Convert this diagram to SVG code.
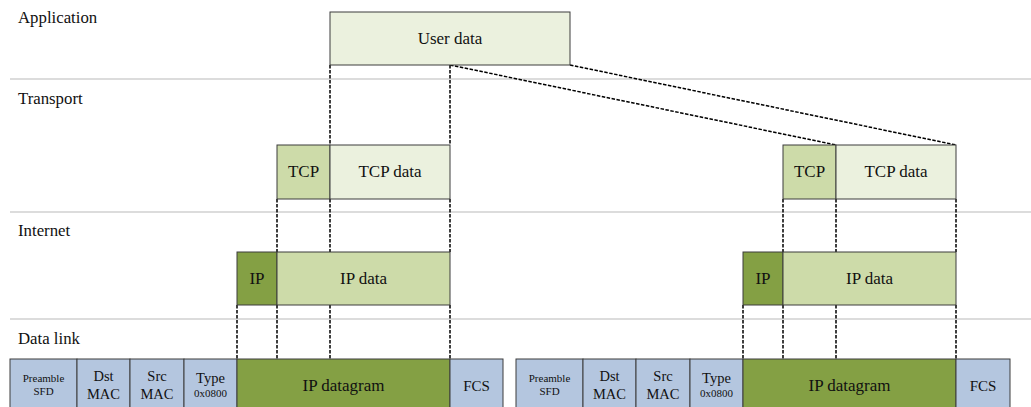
<svg xmlns="http://www.w3.org/2000/svg" width="1031" height="407" viewBox="0 0 1031 407">
<style>
text{fill:#111;}
.lay{font-size:16.8px;}
.lbl{font-size:17px;text-anchor:middle;}
.mid{font-size:14.5px;text-anchor:middle;}
.sm{font-size:11px;text-anchor:middle;}
.sep{stroke:#d0d0d0;stroke-width:1.5;}
.b{stroke:#3c3c3c;stroke-width:1;}
.ud{fill:#ebf1de;}
.hd{fill:#cddba9;}
.ip{fill:#84a044;}
.dl{fill:#b4c6df;}
.dash{stroke:#000;stroke-width:1.5;stroke-dasharray:3.5 1.5;fill:none;}
</style>
<rect width="1031" height="407" fill="#fff"/>
<g font-family="Liberation Serif, DejaVu Serif, serif">
<g id="layers">
<line class="sep" x1="10" y1="79" x2="1031" y2="79"/>
<line class="sep" x1="10" y1="212" x2="1031" y2="212"/>
<line class="sep" x1="10" y1="319" x2="1031" y2="319"/>
<text class="lay" x="18" y="23">Application</text>
<text class="lay" x="18" y="104">Transport</text>
<text class="lay" x="18" y="236">Internet</text>
<text class="lay" x="18" y="344">Data link</text>
</g>
<g id="connectors">
<line class="dash" x1="330" y1="65" x2="330" y2="145"/>
<line class="dash" x1="450" y1="65" x2="450" y2="145"/>
<line class="dash" x1="450" y1="65" x2="836" y2="145"/>
<line class="dash" x1="570" y1="65" x2="956" y2="145"/>
<line class="dash" x1="277" y1="199" x2="277" y2="252"/>
<line class="dash" x1="330" y1="199" x2="330" y2="252"/>
<line class="dash" x1="450" y1="199" x2="450" y2="252"/>
<line class="dash" x1="237" y1="305" x2="237" y2="359"/>
<line class="dash" x1="277" y1="305" x2="277" y2="359"/>
<line class="dash" x1="330" y1="305" x2="330" y2="359"/>
<line class="dash" x1="450" y1="305" x2="450" y2="359"/>
<line class="dash" x1="783" y1="199" x2="783" y2="252"/>
<line class="dash" x1="836" y1="199" x2="836" y2="252"/>
<line class="dash" x1="956" y1="199" x2="956" y2="252"/>
<line class="dash" x1="743" y1="305" x2="743" y2="359"/>
<line class="dash" x1="783" y1="305" x2="783" y2="359"/>
<line class="dash" x1="836" y1="305" x2="836" y2="359"/>
<line class="dash" x1="956" y1="305" x2="956" y2="359"/>
</g>
<g id="user-data">
<rect class="b ud" x="330" y="12" width="240" height="53"/>
<text class="lbl" x="450" y="44">User data</text>
</g>
<g id="tcp-left">
<rect class="b hd" x="277" y="145" width="53" height="54"/>
<text class="lbl" x="303.5" y="177">TCP</text>
<rect class="b ud" x="330" y="145" width="120" height="54"/>
<text class="lbl" x="390" y="177">TCP data</text>
</g>
<g id="tcp-right">
<rect class="b hd" x="783" y="145" width="53" height="54"/>
<text class="lbl" x="809.5" y="177">TCP</text>
<rect class="b ud" x="836" y="145" width="120" height="54"/>
<text class="lbl" x="896" y="177">TCP data</text>
</g>
<g id="ip-left">
<rect class="b ip" x="237" y="252" width="40" height="53"/>
<text class="lbl" x="257" y="284">IP</text>
<rect class="b hd" x="277" y="252" width="173" height="53"/>
<text class="lbl" x="363.5" y="284">IP data</text>
</g>
<g id="ip-right">
<rect class="b ip" x="743" y="252" width="40" height="53"/>
<text class="lbl" x="763" y="284">IP</text>
<rect class="b hd" x="783" y="252" width="173" height="53"/>
<text class="lbl" x="869.5" y="284">IP data</text>
</g>
<g id="frame-left">
<rect class="b dl" x="10" y="359" width="67" height="54"/>
<text class="sm" x="43.5" y="382">Preamble</text>
<text class="sm" x="43.5" y="395">SFD</text>
<rect class="b dl" x="77" y="359" width="53" height="54"/>
<text class="mid" x="103.5" y="381">Dst</text>
<text class="mid" x="103.5" y="399">MAC</text>
<rect class="b dl" x="130" y="359" width="54" height="54"/>
<text class="mid" x="157" y="381">Src</text>
<text class="mid" x="157" y="399">MAC</text>
<rect class="b dl" x="184" y="359" width="53" height="54"/>
<text class="mid" x="210.5" y="383">Type</text>
<text class="sm" x="210.5" y="397">0x0800</text>
<rect class="b ip" x="237" y="359" width="213" height="54"/>
<text class="lbl" x="343.5" y="391">IP datagram</text>
<rect class="b dl" x="450" y="359" width="53" height="54"/>
<text class="lbl" x="476.5" y="391" style="font-size:15px">FCS</text>
</g>
<g id="frame-right">
<rect class="b dl" x="516" y="359" width="67" height="54"/>
<text class="sm" x="549.5" y="382">Preamble</text>
<text class="sm" x="549.5" y="395">SFD</text>
<rect class="b dl" x="583" y="359" width="53" height="54"/>
<text class="mid" x="609.5" y="381">Dst</text>
<text class="mid" x="609.5" y="399">MAC</text>
<rect class="b dl" x="636" y="359" width="54" height="54"/>
<text class="mid" x="663" y="381">Src</text>
<text class="mid" x="663" y="399">MAC</text>
<rect class="b dl" x="690" y="359" width="53" height="54"/>
<text class="mid" x="716.5" y="383">Type</text>
<text class="sm" x="716.5" y="397">0x0800</text>
<rect class="b ip" x="743" y="359" width="213" height="54"/>
<text class="lbl" x="849.5" y="391">IP datagram</text>
<rect class="b dl" x="956" y="359" width="54" height="54"/>
<text class="lbl" x="983" y="391" style="font-size:15px">FCS</text>
</g>
</g>
</svg>
